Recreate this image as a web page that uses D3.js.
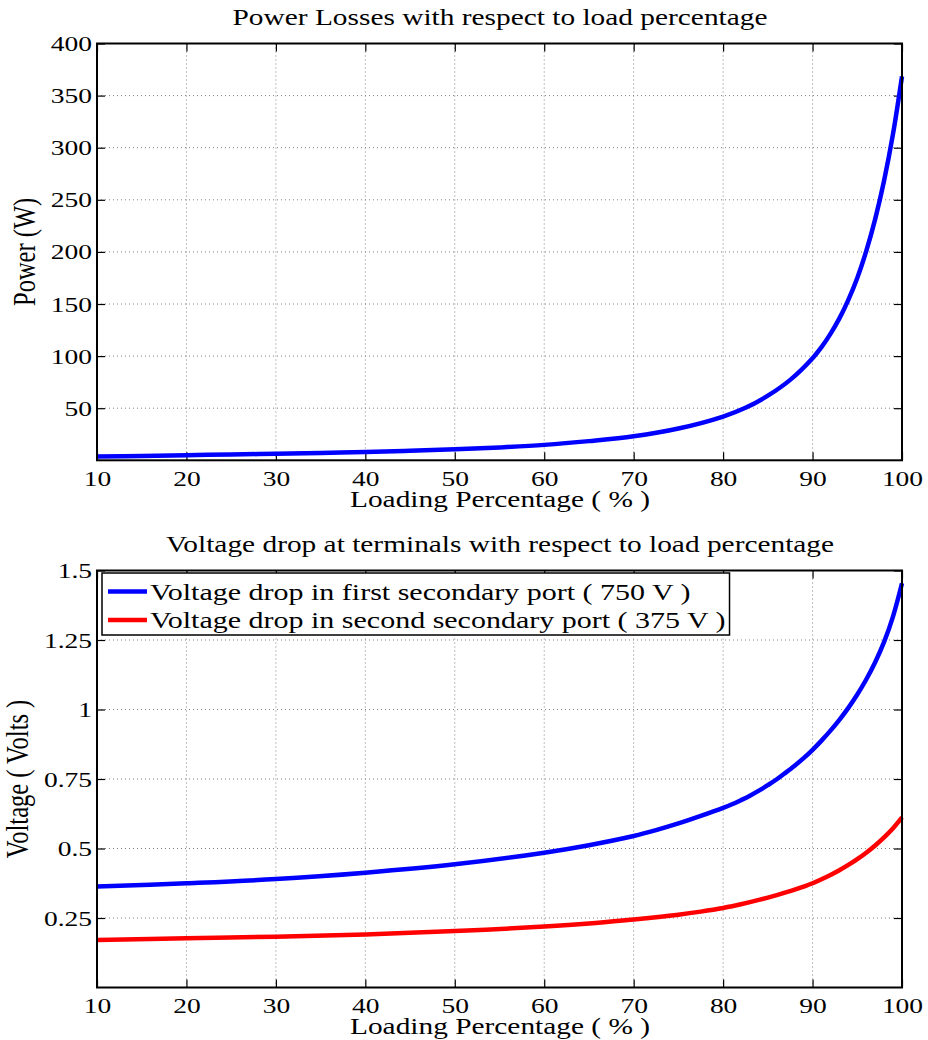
<!DOCTYPE html>
<html lang="en">
<head>
<meta charset="UTF-8">
<script src="https://d3js.org/d3.v7.min.js"></script>
<style>
  body { margin: 0; background: #fff; }
  text { font-family: "Liberation Serif", "Times New Roman", serif; fill: #000; }
</style>
</head>
<body>
<script>
// x axis ticks shared by both panels
const loadTicks = [10, 20, 30, 40, 50, 60, 70, 80, 90, 100];

// top panel: power losses (W)
const lossLoad  = [10, 15, 20, 25, 30, 35, 40, 45, 50, 55, 60, 65, 70, 75, 80, 82.5, 85, 87.5, 90, 91, 92, 93, 94, 95, 96, 97, 98, 99, 100];
const lossPower = [3.6, 4.2, 4.9, 5.55, 6.3, 7.1, 8.0, 9.15, 10.5, 12.4, 14.8, 18.4, 23.0, 30.5, 42, 50.4, 62, 77.2, 98, 108.6, 121.3, 136.2, 154, 175, 200.7, 231.4, 268.5, 313.4, 368.4];
const powerTicks = [50, 100, 150, 200, 250, 300, 350, 400];

// bottom panel: voltage drops (V)
const dropLoad   = [10, 20, 30, 40, 50, 60, 65, 70, 72.5, 75, 77.5, 80, 81, 82, 83, 84, 85, 86, 87, 88, 89, 90, 91, 92, 93, 94, 95, 96, 97, 98, 99, 100];
const dropFirst  = [0.363, 0.375, 0.390, 0.413, 0.443, 0.485, 0.512, 0.545, 0.566, 0.590, 0.617, 0.646, 0.659, 0.674, 0.690, 0.708, 0.728, 0.749, 0.773, 0.798, 0.825, 0.855, 0.888, 0.924, 0.963, 1.006, 1.054, 1.108, 1.170, 1.243, 1.335, 1.454];
const dropSecond = [0.171, 0.177, 0.183, 0.191, 0.203, 0.219, 0.230, 0.245, 0.253, 0.262, 0.273, 0.286, 0.2925, 0.2995, 0.307, 0.315, 0.3235, 0.3325, 0.342, 0.352, 0.363, 0.375, 0.3895, 0.405, 0.422, 0.441, 0.462, 0.485, 0.511, 0.540, 0.573, 0.612];
const voltTicks = [0.25, 0.5, 0.75, 1, 1.25, 1.5];
const legendNames = ["Voltage drop in first secondary port ( 750 V )", "Voltage drop in second secondary port ( 375 V )"];
const legendColors = ["#0000ff", "#ff0000"];

const W = 928, H = 1040;
const SX = 1.25;          // the figure text is stretched wide
const FS = 22;            // tick labels
const FT = 23.5;          // titles and x labels
const FY = 24.5;          // y labels
const FL = 24;            // legend

const svg = d3.select("body").append("svg")
  .attr("width", W).attr("height", H);

const x = d3.scaleLinear().domain([10, 100]).range([97, 902]);

function stretch(sel) {
  sel.each(function () {
    const t = d3.select(this);
    t.attr("transform", (t.attr("transform") || "") + ` scale(${SX},1)`);
  });
}

function panel(y, yTicks, fmt, title, yLabel, yLabelX, titleY, xLabelY) {
  const [y0, y1] = y.range();
  const g = svg.append("g");

  // dotted grid
  g.selectAll(".gx").data(loadTicks.slice(1, -1)).join("line")
    .attr("x1", d => x(d)).attr("x2", d => x(d))
    .attr("y1", y1).attr("y2", y0)
    .attr("stroke", "#808080").attr("stroke-width", 1).attr("stroke-dasharray", "1,3");
  g.selectAll(".gy").data(yTicks.filter(d => y(d) > y1 + 1)).join("line")
    .attr("x1", x.range()[0]).attr("x2", x.range()[1])
    .attr("y1", d => y(d)).attr("y2", d => y(d))
    .attr("stroke", "#808080").attr("stroke-width", 1).attr("stroke-dasharray", "1,3");

  // axes, ticks pointing inward
  const bottom = g.append("g").attr("transform", `translate(0,${y0})`)
    .call(d3.axisBottom(x).tickValues(loadTicks).tickSizeInner(-8).tickSizeOuter(0).tickPadding(10));
  const left = g.append("g").attr("transform", `translate(${x.range()[0]},0)`)
    .call(d3.axisLeft(y).tickValues(yTicks).tickFormat(fmt).tickSizeInner(-8).tickSizeOuter(0).tickPadding(4));
  g.append("g").attr("transform", `translate(0,${y1})`)
    .call(d3.axisTop(x).tickValues(loadTicks).tickSizeInner(-8).tickSizeOuter(0).tickFormat(""));
  g.append("g").attr("transform", `translate(${x.range()[1]},0)`)
    .call(d3.axisRight(y).tickValues(yTicks).tickSizeInner(-8).tickSizeOuter(0).tickFormat(""));

  g.selectAll(".domain").remove();
  g.selectAll(".tick line").attr("stroke", "#000").attr("stroke-width", 1.2);
  g.selectAll(".tick text").style("font-family", '"Liberation Serif", serif').style("font-size", FS + "px").attr("fill", "#000");
  stretch(bottom.selectAll(".tick text"));
  stretch(left.selectAll(".tick text"));

  // title and axis labels
  svg.append("text").attr("text-anchor", "middle").style("font-size", FT + "px")
    .attr("transform", `translate(500,${titleY})`).text(title).call(stretch);
  svg.append("text").attr("text-anchor", "middle").style("font-size", FT + "px")
    .attr("transform", `translate(500,${xLabelY})`).text("Loading Percentage ( % )").call(stretch);
  svg.append("text").attr("text-anchor", "middle").style("font-size", FY + "px")
    .attr("transform", `translate(${yLabelX},${(y0 + y1) / 2}) scale(${SX},1) rotate(-90)`).text(yLabel);

  return g;
}

function frame(y) {
  const [y0, y1] = y.range();
  svg.append("rect")
    .attr("x", x.range()[0]).attr("y", y1)
    .attr("width", x.range()[1] - x.range()[0]).attr("height", y0 - y1)
    .attr("fill", "none").attr("stroke", "#000").attr("stroke-width", 2);
}

// ---- top panel
const yP = d3.scaleLinear().domain([0, 400]).range([460.3, 43.5]);
panel(yP, powerTicks, d => d, "Power Losses with respect to load percentage", "Power (W)", 35, 25, 507);

const lineP = d3.line().x(d => x(d[0])).y(d => yP(d[1])).curve(d3.curveCatmullRom);
svg.append("path").datum(d3.zip(lossLoad, lossPower))
  .attr("d", lineP).attr("fill", "none").attr("stroke", "#0000ff").attr("stroke-width", 4.5);
frame(yP);

// ---- bottom panel
const yV = d3.scaleLinear().domain([0, 1.5]).range([987.5, 570.5]);
panel(yV, voltTicks, d => String(d), "Voltage drop at terminals with respect to load percentage", "Voltage ( Volts )", 28, 552, 1034);

const lineV = d3.line().x(d => x(d[0])).y(d => yV(d[1])).curve(d3.curveCatmullRom);
[dropFirst, dropSecond].forEach((s, i) => {
  svg.append("path").datum(d3.zip(dropLoad, s))
    .attr("d", lineV).attr("fill", "none").attr("stroke", legendColors[i]).attr("stroke-width", 4.5);
});
frame(yV);

// legend
const leg = svg.append("g").attr("transform", "translate(102,573)");
const legBox = leg.append("rect").attr("fill", "#fff").attr("stroke", "#000").attr("stroke-width", 1.5);
const rows = leg.selectAll(".row").data(legendNames).join("g")
  .attr("transform", (d, i) => `translate(0,${18.5 + i * 28.5})`);
rows.append("line").attr("x1", 6).attr("x2", 45).attr("y1", 0).attr("y2", 0)
  .attr("stroke", (d, i) => legendColors[i]).attr("stroke-width", 4.5);
rows.append("text").attr("transform", "translate(48,8)").style("font-size", FL + "px")
  .text(d => d).call(stretch);
let maxW = 0;
rows.selectAll("text").each(function () { maxW = Math.max(maxW, this.getComputedTextLength()); });
legBox.attr("x", 0).attr("y", 0).attr("width", 48 + maxW * SX + 4).attr("height", 62);
</script>
</body>
</html>
